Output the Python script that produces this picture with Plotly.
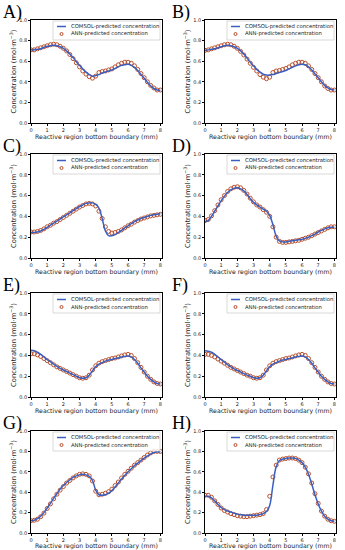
import plotly.graph_objects as go

x_mm = [round(i * 0.2, 1) for i in range(41)]

panel_labels = ["A)", "B)", "C)", "D)", "E)", "F)", "G)", "H)"]
x_ticks = [0, 1, 2, 3, 4, 5, 6, 7, 8]
y_ticks = [0.0, 0.2, 0.4, 0.6, 0.8, 1.0]
legend_names = ["COMSOL-predicted concentration", "ANN-predicted concentration"]

comsol_A = [0.71, 0.71, 0.715, 0.72, 0.735, 0.745, 0.75, 0.755, 0.75, 0.74, 0.725, 0.70, 0.67, 0.635, 0.595, 0.56, 0.525, 0.495, 0.47, 0.455, 0.46,
            0.47, 0.485, 0.495, 0.505, 0.515, 0.53, 0.545, 0.56, 0.565, 0.57, 0.56, 0.54, 0.51, 0.47, 0.435, 0.395, 0.36, 0.335, 0.32, 0.315]
ann_A = [0.71, 0.71, 0.72, 0.73, 0.74, 0.75, 0.76, 0.765, 0.76, 0.745, 0.725, 0.70, 0.665, 0.625, 0.585, 0.545, 0.505, 0.475, 0.45, 0.435, 0.455,
         0.49, 0.50, 0.505, 0.515, 0.525, 0.545, 0.565, 0.58, 0.59, 0.59, 0.58, 0.555, 0.52, 0.48, 0.44, 0.40, 0.365, 0.34, 0.32, 0.32]

comsol_B = [0.705, 0.71, 0.715, 0.72, 0.73, 0.74, 0.75, 0.755, 0.75, 0.74, 0.725, 0.70, 0.67, 0.63, 0.59, 0.555, 0.52, 0.495, 0.475, 0.465, 0.465,
            0.47, 0.48, 0.49, 0.50, 0.51, 0.525, 0.54, 0.555, 0.565, 0.57, 0.565, 0.545, 0.515, 0.475, 0.44, 0.40, 0.365, 0.34, 0.325, 0.32]
ann_B = [0.705, 0.71, 0.72, 0.73, 0.74, 0.75, 0.76, 0.765, 0.76, 0.745, 0.725, 0.695, 0.66, 0.62, 0.58, 0.54, 0.505, 0.47, 0.445, 0.43, 0.445,
         0.49, 0.505, 0.51, 0.52, 0.53, 0.545, 0.565, 0.58, 0.59, 0.59, 0.58, 0.555, 0.52, 0.48, 0.44, 0.40, 0.36, 0.335, 0.32, 0.32]

comsol_C = [0.245, 0.245, 0.25, 0.26, 0.275, 0.295, 0.315, 0.335, 0.355, 0.375, 0.395, 0.415, 0.435, 0.455, 0.475, 0.495, 0.51, 0.525, 0.53, 0.53, 0.515,
            0.48, 0.38, 0.26, 0.215, 0.215, 0.225, 0.245, 0.265, 0.29, 0.31, 0.33, 0.35, 0.365, 0.38, 0.39, 0.40, 0.41, 0.415, 0.42, 0.425]
ann_C = [0.25, 0.25, 0.255, 0.265, 0.28, 0.30, 0.315, 0.335, 0.35, 0.37, 0.39, 0.41, 0.43, 0.45, 0.47, 0.49, 0.505, 0.52, 0.525, 0.52, 0.50,
         0.45, 0.38, 0.30, 0.255, 0.24, 0.245, 0.255, 0.27, 0.29, 0.31, 0.325, 0.345, 0.36, 0.375, 0.385, 0.395, 0.405, 0.41, 0.415, 0.42]

comsol_D = [0.35, 0.36, 0.40, 0.45, 0.50, 0.55, 0.595, 0.63, 0.655, 0.67, 0.675, 0.665, 0.645, 0.61, 0.57, 0.535, 0.51, 0.49, 0.47, 0.45, 0.41,
            0.32, 0.21, 0.165, 0.155, 0.155, 0.16, 0.165, 0.17, 0.175, 0.18, 0.19, 0.20, 0.215, 0.23, 0.25, 0.265, 0.28, 0.29, 0.295, 0.295]
ann_D = [0.36, 0.37, 0.405, 0.455, 0.51, 0.56, 0.60, 0.64, 0.665, 0.68, 0.685, 0.675, 0.65, 0.615, 0.575, 0.54, 0.51, 0.49, 0.465, 0.44, 0.40,
         0.30, 0.20, 0.16, 0.15, 0.15, 0.155, 0.16, 0.165, 0.17, 0.18, 0.19, 0.20, 0.215, 0.23, 0.245, 0.26, 0.275, 0.29, 0.30, 0.30]

comsol_E = [0.45, 0.445, 0.43, 0.41, 0.385, 0.36, 0.34, 0.315, 0.295, 0.275, 0.26, 0.245, 0.23, 0.215, 0.20, 0.185, 0.18, 0.185, 0.21, 0.25, 0.29,
            0.315, 0.33, 0.345, 0.355, 0.36, 0.37, 0.375, 0.385, 0.39, 0.395, 0.385, 0.36, 0.325, 0.28, 0.24, 0.20, 0.17, 0.145, 0.13, 0.125]
ann_E = [0.415, 0.415, 0.405, 0.39, 0.37, 0.35, 0.33, 0.31, 0.29, 0.275, 0.26, 0.245, 0.23, 0.215, 0.20, 0.185, 0.18, 0.185, 0.21, 0.26, 0.30,
         0.325, 0.34, 0.35, 0.36, 0.37, 0.375, 0.385, 0.395, 0.405, 0.41, 0.40, 0.37, 0.33, 0.285, 0.24, 0.20, 0.17, 0.145, 0.13, 0.125]

comsol_F = [0.445, 0.44, 0.43, 0.41, 0.385, 0.36, 0.335, 0.31, 0.29, 0.27, 0.255, 0.24, 0.225, 0.21, 0.20, 0.185, 0.18, 0.185, 0.21, 0.25, 0.29,
            0.315, 0.33, 0.345, 0.355, 0.36, 0.37, 0.375, 0.385, 0.39, 0.395, 0.385, 0.36, 0.325, 0.28, 0.24, 0.20, 0.17, 0.145, 0.13, 0.125]
ann_F = [0.41, 0.41, 0.40, 0.385, 0.365, 0.345, 0.325, 0.305, 0.285, 0.27, 0.255, 0.24, 0.225, 0.21, 0.20, 0.185, 0.18, 0.185, 0.21, 0.26, 0.30,
         0.325, 0.34, 0.35, 0.36, 0.37, 0.375, 0.385, 0.395, 0.405, 0.41, 0.40, 0.37, 0.33, 0.285, 0.24, 0.20, 0.17, 0.145, 0.13, 0.125]

comsol_G = [0.12, 0.125, 0.14, 0.165, 0.20, 0.245, 0.29, 0.34, 0.385, 0.43, 0.465, 0.495, 0.52, 0.545, 0.56, 0.57, 0.575, 0.57, 0.555, 0.515, 0.42,
            0.375, 0.37, 0.375, 0.39, 0.415, 0.45, 0.49, 0.53, 0.565, 0.60, 0.63, 0.66, 0.685, 0.71, 0.735, 0.755, 0.775, 0.79, 0.795, 0.795]
ann_G = [0.12, 0.125, 0.135, 0.16, 0.195, 0.24, 0.285, 0.335, 0.38, 0.42, 0.455, 0.49, 0.515, 0.54, 0.56, 0.575, 0.58, 0.575, 0.56, 0.51, 0.41,
         0.375, 0.38, 0.39, 0.405, 0.43, 0.465, 0.50, 0.54, 0.575, 0.605, 0.635, 0.665, 0.69, 0.715, 0.74, 0.765, 0.785, 0.80, 0.80, 0.80]

comsol_H = [0.36, 0.36, 0.345, 0.315, 0.28, 0.25, 0.23, 0.215, 0.205, 0.195, 0.185, 0.18, 0.175, 0.175, 0.175, 0.175, 0.175, 0.18, 0.19, 0.21, 0.27,
            0.47, 0.65, 0.71, 0.725, 0.73, 0.735, 0.735, 0.73, 0.715, 0.69, 0.645, 0.575, 0.48, 0.375, 0.285, 0.215, 0.165, 0.135, 0.12, 0.115]
ann_H = [0.37, 0.37, 0.35, 0.315, 0.28, 0.245, 0.22, 0.205, 0.19, 0.18, 0.17, 0.165, 0.16, 0.16, 0.165, 0.17, 0.175, 0.18, 0.19, 0.23, 0.36,
         0.55, 0.665, 0.715, 0.725, 0.73, 0.735, 0.735, 0.73, 0.715, 0.69, 0.645, 0.58, 0.49, 0.385, 0.29, 0.215, 0.165, 0.135, 0.12, 0.115]

comsol_all = [comsol_A, comsol_B, comsol_C, comsol_D, comsol_E, comsol_F, comsol_G, comsol_H]
ann_all = [ann_A, ann_B, ann_C, ann_D, ann_E, ann_F, ann_G, ann_H]

W, H = 345, 550
col_px = [(31, 162), (205, 336)]
row_px = [(20, 123), (154, 258), (293, 397), (431, 533)]

LINE_COLOR = "#3a5fc0"
MARK_COLOR = "#b9502c"
FONT = "DejaVu Sans"
TXT = "#222"


def px(xp):
    return xp / W


def py(yp):
    return 1 - yp / H


fig = go.Figure()
layout = {}
annotations = []
shapes = []
for i in range(8):
    r, c = divmod(i, 2)
    n = i + 1
    xa = "x" if n == 1 else f"x{n}"
    ya = "y" if n == 1 else f"y{n}"
    x0, x1 = col_px[c]
    t0, t1 = row_px[r]
    fig.add_trace(go.Scatter(x=x_mm, y=ann_all[i], mode="markers", xaxis=xa, yaxis=ya,
                             marker=dict(symbol="circle-open", color=MARK_COLOR, size=4,
                                         line=dict(width=1, color=MARK_COLOR)),
                             name=legend_names[1], showlegend=False))
    fig.add_trace(go.Scatter(x=x_mm, y=comsol_all[i], mode="lines", xaxis=xa, yaxis=ya,
                             line=dict(color=LINE_COLOR, width=1.5, shape="spline"),
                             name=legend_names[0], showlegend=False))
    axkey = "xaxis" if n == 1 else f"xaxis{n}"
    aykey = "yaxis" if n == 1 else f"yaxis{n}"
    layout[axkey] = dict(domain=[px(x0), px(x1)], anchor=ya, range=[0, 8.1], tickvals=x_ticks,
                         ticks="outside", ticklen=2, tickwidth=0.8, tickcolor="#000",
                         showline=True, linecolor="#000", linewidth=0.8, mirror=True,
                         showgrid=False, zeroline=False,
                         tickfont=dict(size=5, family=FONT, color=TXT),
                         title=dict(text="Reactive region bottom boundary (mm)",
                                    font=dict(size=6.2, family=FONT, color=TXT), standoff=0))
    layout[aykey] = dict(domain=[py(t1), py(t0)], anchor=xa, range=[0, 1.0], tickvals=y_ticks,
                         ticktext=[f"{v:.1f}" for v in y_ticks],
                         ticks="outside", ticklen=2, tickwidth=0.8, tickcolor="#000",
                         showline=True, linecolor="#000", linewidth=0.8, mirror=True,
                         showgrid=False, zeroline=False,
                         tickfont=dict(size=5, family=FONT, color=TXT),
                         title=dict(text="Concentration (mol·m<sup>−3</sup>)",
                                    font=dict(size=6.8, family=FONT, color=TXT), standoff=1))
    # legend box drawn in paper space
    lx0, lx1 = x1 - 109, x1 - 2
    ly0, ly1 = t0 + 1, t0 + 20
    shapes.append(dict(type="rect", xref="paper", yref="paper",
                       x0=px(lx0), x1=px(lx1), y0=py(ly1), y1=py(ly0),
                       line=dict(color="#c8c8c8", width=0.7), fillcolor="rgba(255,255,255,0.85)",
                       layer="above"))
    shapes.append(dict(type="line", xref="paper", yref="paper",
                       x0=px(lx0 + 4), x1=px(lx0 + 13), y0=py(ly0 + 5.5), y1=py(ly0 + 5.5),
                       line=dict(color=LINE_COLOR, width=1.5), layer="above"))
    shapes.append(dict(type="circle", xref="paper", yref="paper",
                       x0=px(lx0 + 7), x1=px(lx0 + 10), y0=py(ly0 + 14.5), y1=py(ly0 + 11.5),
                       line=dict(color=MARK_COLOR, width=1), layer="above"))
    annotations.append(dict(text=legend_names[0], x=px(lx0 + 16), y=py(ly0 + 5.5),
                            xref="paper", yref="paper", xanchor="left", yanchor="middle",
                            showarrow=False, font=dict(size=5.3, family=FONT, color=TXT)))
    annotations.append(dict(text=legend_names[1], x=px(lx0 + 16), y=py(ly0 + 13),
                            xref="paper", yref="paper", xanchor="left", yanchor="middle",
                            showarrow=False, font=dict(size=5.3, family=FONT, color=TXT)))
    annotations.append(dict(text=panel_labels[i], x=px(1 if c == 0 else 170),
                            y=py(t0 - 20), xref="paper", yref="paper",
                            xanchor="left", yanchor="top", showarrow=False,
                            font=dict(size=18, family="Liberation Serif", color="#000")))

fig.update_layout(width=W, height=H, margin=dict(l=0, r=0, t=0, b=0, autoexpand=False),
                  paper_bgcolor="white", plot_bgcolor="white",
                  showlegend=False, annotations=annotations, shapes=shapes, **layout)
fig.write_html("out.html", config={"displayModeBar": False},
               post_script="document.body.style.margin='0px';")
